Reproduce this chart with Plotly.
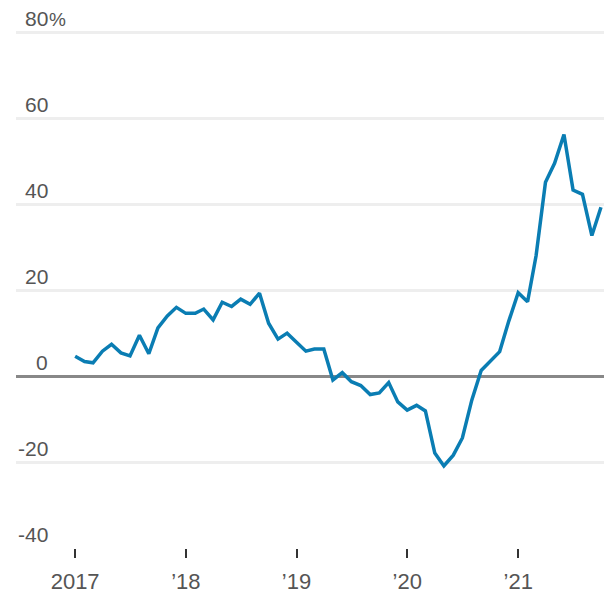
import plotly.graph_objects as go
import pandas as pd

# Monthly values, Jan 2017 - Oct 2021 (percent change)
months = pd.date_range("2017-01-01", "2021-10-01", freq="MS")
values = [
    4.6, 3.4, 3.1, 5.8, 7.4, 5.4, 4.7, 9.5, 5.2, 11.2, 14.0, 16.0,   # 2017
    14.6, 14.6, 15.6, 13.1, 17.2, 16.2, 17.9, 16.7, 19.3, 12.3, 8.6, 10.0,  # 2018
    7.9, 5.8, 6.3, 6.3, -0.9, 0.8, -1.3, -2.2, -4.3, -3.9, -1.5, -6.0,     # 2019
    -7.9, -6.8, -8.1, -17.9, -20.9, -18.4, -14.4, -5.6, 1.3, 3.5, 5.7, 12.8,  # 2020
    19.4, 17.3, 28.0, 45.1, 49.5, 56.2, 43.3, 42.3, 32.7, 39.3,             # 2021
]

y_ticks = [80, 60, 40, 20, 0, -20, -40]
y_labels = ["80", "60", "40", "20", "0", "-20", "-40"]
x_ticks = ["2017-01-01", "2018-01-01", "2019-01-01", "2020-01-01", "2021-01-01"]
x_labels = ["2017", "\u201918", "\u201919", "\u201920", "\u201921"]

FONT = "Liberation Sans"
TXT = "#555555"

fig = go.Figure()
fig.add_trace(go.Scatter(
    x=months, y=values, mode="lines",
    line=dict(color="#0a7db3", width=3.5),
    hoverinfo="skip",
))

W, H = 604, 595
L, R, T, B = 16, 0, 28, 47
label_x = (50 - L) / (W - L - R)

annotations = []
for v, t in zip(y_ticks, y_labels):
    annotations.append(dict(
        x=label_x, xref="paper", y=v, yref="y", text=t,
        xanchor="right", yanchor="bottom", showarrow=False,
        font=dict(family=FONT, size=21, color=TXT), yshift=0,
    ))
annotations.append(dict(
    x=label_x, xref="paper", y=80, yref="y", text="%",
    xanchor="left", yanchor="bottom", showarrow=False,
    font=dict(family=FONT, size=19, color=TXT), yshift=0, xshift=-3,
))

fig.update_layout(
    width=W, height=H,
    margin=dict(l=L, r=R, t=T, b=B),
    paper_bgcolor="white", plot_bgcolor="white",
    showlegend=False,
    annotations=annotations,
    xaxis=dict(
        range=["2016-06-20", "2021-10-11"],
        tickvals=x_ticks, ticktext=x_labels,
        ticks="outside", ticklen=9, tickwidth=1.5, tickcolor="#333333",
        showgrid=False, zeroline=False, showline=False,
        tickfont=dict(family=FONT, size=22, color=TXT),
        ticklabelstandoff=5,
    ),
    yaxis=dict(
        range=[-40, 81],
        tickvals=y_ticks, showticklabels=False,
        showgrid=True, gridcolor="#eeeeee", gridwidth=2.5,
        zeroline=True, zerolinecolor="#888888", zerolinewidth=3,
        showline=False, ticks="",
    ),
)

fig.write_html(
    "out.html",
    config={"displayModeBar": False},
    post_script="document.body.style.margin='0';document.body.style.overflow='hidden';",
)
